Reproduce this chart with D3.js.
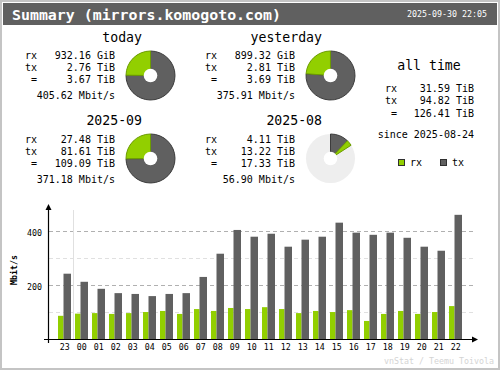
<!DOCTYPE html>
<html>
<head>
<meta charset="utf-8">
<script src="https://cdn.jsdelivr.net/npm/d3@7/dist/d3.min.js"></script>
<style>
  body { margin: 0; background: #fff; }
  svg { display: block; }
  text { font-family: "DejaVu Sans Mono", "Liberation Mono", monospace; }
</style>
</head>
<body>
<svg id="chart" width="500" height="370"></svg>
<script>
// vnstati style summary: header, four period blocks with donuts, all time totals, hourly bars

var title = 'Summary (mirrors.komogoto.com)';
var stamp = '2025-09-30 22:05';

var periods = ['today', 'yesterday', '2025-09', '2025-08'];
var rxText = ['932.16 GiB', '899.32 GiB', '27.48 TiB', '4.11 TiB'];
var txText = ['2.76 TiB', '2.81 TiB', '81.61 TiB', '13.22 TiB'];
var totalText = ['3.67 TiB', '3.69 TiB', '109.09 TiB', '17.33 TiB'];
var rateText = ['405.62 Mbit/s', '375.91 Mbit/s', '371.18 Mbit/s', '56.90 Mbit/s'];
// values in TiB for the donuts, and the total that fills a whole circle
var rxTiB = [0.9103, 0.8782, 27.48, 4.11];
var txTiB = [2.76, 2.81, 81.61, 13.22];
var pieFull = [3.67, 3.69, 109.09, 109.09];

var allLabels = ['rx', 'tx', '='];
var allValues = ['31.59 TiB', '94.82 TiB', '126.41 TiB'];
var since = '2025-08-24';

var hours = ['23', '00', '01', '02', '03', '04', '05', '06', '07', '08', '09', '10',
  '11', '12', '13', '14', '15', '16', '17', '18', '19', '20', '21', '22'];
var rxRate = [87, 95, 97, 94, 97, 101, 105, 94, 112, 105, 116, 112,
  119, 112, 97, 105, 101, 108, 68, 94, 105, 94, 101, 123];
var txRate = [243, 213, 187, 171, 168, 160, 168, 171, 231, 317, 405, 380,
  391, 343, 369, 380, 432, 395, 387, 395, 376, 343, 328, 461];
var yTicks = [100, 200, 300, 400];

var cRx = '#92cf00', cRxD = '#6c9c00', cTx = '#606060', cTxD = '#3c3c3c';

var svg = d3.select('#chart');

// frame and header
svg.append('rect').attr('x', 1).attr('y', 1).attr('width', 498).attr('height', 368)
  .attr('fill', '#fff').attr('stroke', '#c4c4c4').attr('stroke-width', 2);
svg.append('rect').attr('x', 3).attr('y', 3).attr('width', 494).attr('height', 22).attr('fill', '#606060');
svg.append('text').attr('x', 12).attr('y', 14.5).attr('dominant-baseline', 'central')
  .attr('font-size', 14.9).attr('font-weight', 'bold').attr('fill', '#fff').text(title);
svg.append('text').attr('x', 487).attr('y', 14).attr('dominant-baseline', 'central')
  .attr('text-anchor', 'end').attr('font-size', 8.3).attr('fill', '#fff').text(stamp);

// period blocks: [heading right edge, label x, value right edge, pie x, heading y, first row y, pie y]
var blocks = [
  [142, 25, 115, 150.5, 37.5, 55, 75.5],
  [322, 205, 295, 330.5, 37.5, 55, 75.5],
  [142, 25, 115, 150.5, 120.5, 139.5, 158.5],
  [322, 205, 295, 330.5, 120.5, 139.5, 158.5]
];
var rowOff = [0, 12, 24, 40];
var arc = d3.arc().innerRadius(0).outerRadius(24.5);

periods.forEach(function(p, i) {
  var b = blocks[i];
  var g = svg.append('g');
  g.append('text').attr('x', b[0]).attr('y', b[4]).attr('dominant-baseline', 'central')
    .attr('text-anchor', 'end').attr('font-size', 13.2).text(p);
  var labels = ['rx', 'tx', '=', ''];
  var vals = [rxText[i], txText[i], totalText[i], rateText[i]];
  labels.forEach(function(l, k) {
    if (l) {
      g.append('text').attr('x', l === '=' ? b[1] + 9 : b[1]).attr('y', b[5] + rowOff[k])
        .attr('dominant-baseline', 'central').attr('text-anchor', l === '=' ? 'middle' : 'start')
        .attr('font-size', 10).text(l);
    }
    g.append('text').attr('x', b[2]).attr('y', b[5] + rowOff[k]).attr('dominant-baseline', 'central')
      .attr('text-anchor', 'end').attr('font-size', 10).text(vals[k]);
  });

  // donut
  var pg = g.append('g').attr('transform', 'translate(' + b[3] + ',' + b[6] + ')');
  var txA = 2 * Math.PI * txTiB[i] / pieFull[i];
  var rxA = 2 * Math.PI * rxTiB[i] / pieFull[i];
  pg.append('circle').attr('r', 24.5).attr('fill', '#eeeeee');
  pg.append('path').attr('d', arc({startAngle: 0, endAngle: txA}))
    .attr('fill', cTx).attr('stroke', cTxD).attr('stroke-width', 1);
  pg.append('path').attr('d', arc({startAngle: txA, endAngle: txA + rxA}))
    .attr('fill', cRx).attr('stroke', cRxD).attr('stroke-width', 1);
  pg.append('circle').attr('r', 6.8).attr('fill', '#fff');
});

// all time
svg.append('text').attr('x', 429).attr('y', 65.5).attr('dominant-baseline', 'central')
  .attr('text-anchor', 'middle').attr('font-size', 13.2).text('all time');
allLabels.forEach(function(l, k) {
  var y = 88.3 + k * 12.5;
  svg.append('text').attr('x', l === '=' ? 394 : 385).attr('y', y).attr('dominant-baseline', 'central')
    .attr('text-anchor', l === '=' ? 'middle' : 'start').attr('font-size', 10).text(l);
  svg.append('text').attr('x', 474).attr('y', y).attr('dominant-baseline', 'central')
    .attr('text-anchor', 'end').attr('font-size', 10).text(allValues[k]);
});
svg.append('text').attr('x', 474).attr('y', 134).attr('dominant-baseline', 'central')
  .attr('text-anchor', 'end').attr('font-size', 10).text('since ' + since);

// legend
[['rx', cRx, cRxD, 398], ['tx', cTx, cTxD, 440]].forEach(function(l) {
  svg.append('rect').attr('x', l[3] + 0.5).attr('y', 159.5).attr('width', 6).attr('height', 6)
    .attr('fill', l[1]).attr('stroke', '#303030');
  svg.append('text').attr('x', l[3] + 12).attr('y', 162.5).attr('dominant-baseline', 'central')
    .attr('font-size', 10).text(l[0]);
});

// hourly bars
var x = d3.scaleBand().domain(hours).range([57, 57 + 17 * hours.length]);
var y = d3.scaleLinear().domain([0, 400]).range([339.3, 231.3]);

var grid = svg.append('g');
yTicks.forEach(function(t) {
  grid.append('line').attr('x1', 49).attr('x2', 473).attr('y1', Math.round(y(t)) + 0.5).attr('y2', Math.round(y(t)) + 0.5)
    .attr('stroke', t % 200 === 0 ? '#b0b0b0' : '#e0e0e0').attr('stroke-dasharray', '4,3');
});
// day boundary marker
svg.append('line').attr('x1', 73.5).attr('x2', 73.5).attr('y1', 210).attr('y2', 339)
  .attr('stroke', '#e0e0e0');

svg.append('g').selectAll('rect').data(hours).enter().append('rect')
  .attr('x', function(d) { return x(d) + 1; })
  .attr('y', function(d, i) { return y(rxRate[i]); })
  .attr('width', 5.5)
  .attr('height', function(d, i) { return y(0) - y(rxRate[i]); })
  .attr('fill', cRx);
svg.append('g').selectAll('rect').data(hours).enter().append('rect')
  .attr('x', function(d) { return x(d) + 6.5; })
  .attr('y', function(d, i) { return y(txRate[i]); })
  .attr('width', 7.5)
  .attr('height', function(d, i) { return y(0) - y(txRate[i]); })
  .attr('fill', cTx);

// axes
svg.append('line').attr('x1', 44).attr('x2', 475).attr('y1', 339.5).attr('y2', 339.5).attr('stroke', '#000').attr('stroke-width', 1.2);
svg.append('line').attr('x1', 48.5).attr('x2', 48.5).attr('y1', 343).attr('y2', 207).attr('stroke', '#000').attr('stroke-width', 1.2);
svg.append('path').attr('d', 'M48.5,204L45.5,210L51.5,210Z').attr('fill', '#000');
svg.append('path').attr('d', 'M478,339.5L472,336.5L472,342.5Z').attr('fill', '#000');

yTicks.filter(function(t) { return t % 200 === 0; }).forEach(function(t) {
  svg.append('text').attr('x', 42).attr('y', y(t) + 2).attr('dominant-baseline', 'central')
    .attr('text-anchor', 'end').attr('font-size', 8.3).text(t);
});
svg.append('text').attr('transform', 'translate(14,270) rotate(-90)').attr('dominant-baseline', 'central')
  .attr('text-anchor', 'middle').attr('font-size', 8.3).attr('font-weight', 'bold').text('Mbit/s');

svg.append('g').selectAll('text').data(hours).enter().append('text')
  .attr('x', function(d) { return x(d) + 7.7; })
  .attr('y', 347).attr('dominant-baseline', 'central').attr('text-anchor', 'middle')
  .attr('font-size', 8.3).text(function(d) { return d; });

svg.append('text').attr('x', 494).attr('y', 361).attr('dominant-baseline', 'central')
  .attr('text-anchor', 'end').attr('font-size', 8.3).attr('fill', '#d4d4d4').text('vnStat / Teemu Toivola');
</script>
</body>
</html>
